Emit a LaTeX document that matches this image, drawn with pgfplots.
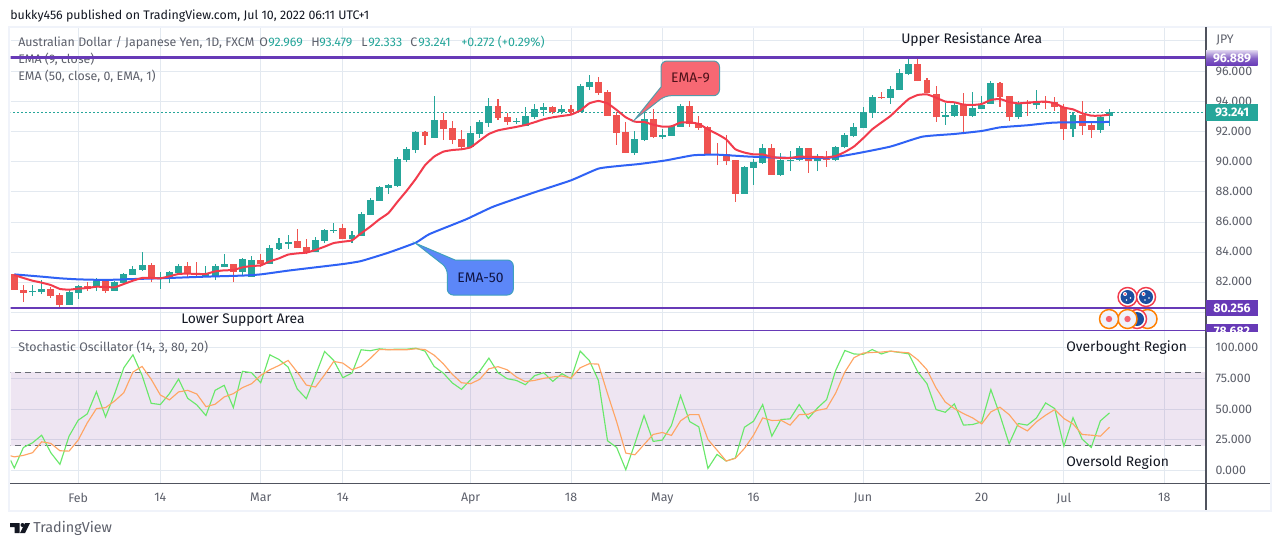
\documentclass[border=0pt]{standalone}
\usepackage{fontspec}
\setmainfont{Fira Sans}
\usepackage{pgfplots}
\usepackage{pgfplotstable}
\pgfplotsset{compat=1.18}

\definecolor{tvgreen}{HTML}{26A69A}
\definecolor{tvred}{HTML}{EF5350}
\definecolor{emared}{HTML}{F23B4C}
\definecolor{emablue}{HTML}{2F62F5}
\definecolor{tvpurple}{HTML}{673AB7}
\definecolor{gridc}{HTML}{E3E9F0}
\definecolor{framec}{HTML}{F0F3FA}
\definecolor{scalec}{HTML}{50535E}
\definecolor{labelc}{HTML}{5D606B}
\definecolor{inkc}{HTML}{131722}
\definecolor{stochk}{HTML}{69E86A}
\definecolor{stochd}{HTML}{FFA564}
\definecolor{bandc}{HTML}{5F0080}
\definecolor{flagblue}{HTML}{1B4FA0}

\newcommand{\tv}{\fontsize{9.3pt}{11pt}\selectfont}
\newcommand{\tvbig}{\fontsize{10.4pt}{12pt}\selectfont}

% i bot top lo hi
\pgfplotstableread{
i bot top lo hi
2 81.24 81.33 81.00 81.73
3 81.29 81.47 81.13 82.07
6 80.40 81.27 80.40 81.44
7 81.22 81.67 80.80 81.73
9 81.58 82.00 81.33 82.18
11 81.36 81.93 81.36 82.02
12 81.89 82.47 81.89 82.51
13 82.40 82.80 82.40 83.00
14 82.73 83.07 82.69 83.93
16 82.13 82.27 81.49 82.60
17 82.24 82.60 81.84 82.69
18 82.51 83.00 82.51 83.13
21 82.33 82.44 82.24 83.00
22 82.33 83.00 82.07 83.13
23 82.93 83.13 82.91 83.80
25 82.62 83.47 82.33 83.51
26 82.29 83.40 82.29 83.67
28 83.16 84.20 83.16 84.40
29 84.13 84.53 84.07 84.87
30 84.49 84.60 84.16 85.04
33 83.96 84.73 83.93 84.91
34 84.67 85.40 84.51 85.44
35 85.31 85.40 85.22 85.87
37 84.80 85.07 84.56 85.31
38 85.02 86.47 85.00 86.60
39 86.42 87.40 86.42 87.53
40 87.36 88.27 87.36 88.33
41 88.22 88.40 87.80 88.47
42 88.33 90.13 88.29 90.27
43 90.09 90.80 89.96 90.91
44 90.76 91.93 90.53 91.98
46 91.53 92.73 91.53 94.33
50 90.91 91.87 90.87 92.33
51 91.80 92.60 91.53 92.73
52 92.53 93.67 92.29 94.20
55 92.60 92.67 92.47 92.87
56 92.33 93.00 92.33 93.60
57 92.93 93.47 92.80 93.80
58 93.40 93.60 93.00 93.87
60 93.27 93.47 93.13 93.73
62 93.27 95.00 93.27 95.13
63 94.93 95.27 94.73 95.73
68 90.53 91.47 90.40 92.00
69 91.40 92.80 91.33 93.60
71 91.58 91.73 91.47 92.13
72 91.67 92.33 91.67 92.40
73 92.27 93.67 92.27 93.80
80 87.80 89.60 87.80 89.67
81 89.53 89.93 88.40 90.16
82 89.87 90.87 89.80 91.13
84 89.07 90.07 89.00 90.51
85 90.04 90.09 89.33 90.67
86 90.07 90.87 90.00 91.00
88 90.00 90.13 89.33 90.47
90 90.07 90.93 90.00 91.00
91 90.91 91.73 90.84 91.87
92 91.64 92.27 91.58 92.53
93 92.20 93.27 92.20 93.60
94 93.20 94.27 92.87 94.40
96 94.20 94.80 93.80 95.00
97 94.73 95.87 94.73 96.13
98 95.80 96.47 95.73 96.84
102 92.96 93.07 92.40 93.84
103 93.00 93.73 92.93 93.91
105 93.00 93.53 92.93 94.60
106 93.47 93.73 93.47 94.33
107 93.80 95.20 93.80 95.33
110 92.93 93.80 92.80 94.00
112 93.73 94.00 93.47 94.73
116 92.13 93.07 91.60 93.27
119 92.07 92.93 91.87 93.07
120 92.969 93.241 92.333 93.479
}\upT

\pgfplotstableread{
i bot top lo hi
0 81.40 82.44 81.40 82.44
1 81.22 81.40 80.62 81.71
4 81.00 81.47 80.89 81.62
5 80.40 81.07 80.29 81.18
8 81.44 81.64 81.36 81.91
10 81.36 81.98 81.22 82.13
15 82.18 83.07 81.96 83.18
19 82.47 83.00 82.24 83.27
20 82.47 82.51 82.33 83.29
24 82.62 83.13 81.96 83.13
27 83.13 83.40 82.96 83.78
31 84.22 84.67 84.22 85.47
32 83.84 84.27 83.78 84.80
36 84.82 85.53 84.82 85.80
45 91.67 91.93 91.07 92.02
47 92.13 92.73 91.40 93.22
48 91.40 92.20 91.13 92.67
49 90.91 91.47 90.73 92.07
53 92.87 93.67 92.73 94.13
54 92.60 92.93 92.40 93.20
59 93.27 93.60 93.13 93.67
61 93.27 93.47 93.13 93.73
64 94.53 95.27 94.40 95.60
65 93.00 94.60 93.00 94.73
66 91.87 93.07 91.07 93.29
67 90.53 91.93 90.53 92.60
70 91.58 92.80 91.53 93.47
74 92.47 93.67 92.27 94.00
75 92.20 92.53 92.07 93.00
76 90.40 92.27 90.40 92.33
77 90.40 90.44 89.73 91.18
78 90.00 90.47 89.73 91.73
79 87.80 90.07 87.27 90.07
83 89.07 90.87 89.07 91.13
87 90.00 90.87 89.20 90.87
89 90.07 90.13 89.60 90.67
95 94.18 94.27 94.13 94.60
99 95.33 96.47 95.33 96.78
100 94.53 95.40 94.53 95.53
101 92.93 94.47 92.60 95.00
104 93.00 93.73 91.93 94.53
108 94.27 95.20 93.60 95.27
109 92.93 94.33 92.67 94.33
111 93.78 93.87 93.00 94.07
113 93.84 93.93 93.47 94.33
114 93.60 93.93 93.33 94.27
115 92.13 93.60 91.40 93.80
117 92.33 93.07 91.73 94.00
118 92.07 92.40 91.53 92.53
}\downT

\newcommand{\candles}[2]{%
\addplot[draw=none, no marks, forget plot, error bars/.cd, y dir=plus, y explicit, error mark=none,
  error bar style={line width=0.8pt,solid,#2}]
  table[x=i,y=lo,y error plus expr=\thisrow{hi}-\thisrow{lo}] {#1};
\addplot[draw=none, no marks, forget plot, error bars/.cd, y dir=plus, y explicit, error mark=none,
  error bar style={line width=5.2pt,solid,#2}]
  table[x=i,y=bot,y error plus expr=\thisrow{top}-\thisrow{bot}] {#1};
}

\pgfplotsset{tvpane/.style={
  scale only axis, clip mode=individual,
  width=896.6pt,
  xmin=-0.416, xmax=130.57,
  xtick={7,16,27,36,50,61,71,81,93,106,115,126},
  xmajorgrids, grid style={gridc,line width=0.75pt},
  axis line style={draw=none}, tick style={draw=none},
  major tick length=0pt, minor tick length=0pt,
  yticklabel pos=right,
  yticklabel style={anchor=west,inner sep=0pt,xshift=7pt,font=\tv,text=labelc,
    /pgf/number format/.cd,fixed,fixed zerofill,precision=3,assume math mode=true},
}}

\begin{document}
\begin{tikzpicture}
\fill[white] (0,0) rectangle (960pt,-409.5pt);
\path[use as bounding box] (0,0) rectangle (960pt,-409.5pt);

% this one sits under the resistance line
\begin{scope}[x=0.75pt,y=-0.75pt]
\node[anchor=west,inner sep=0pt,text=labelc,font=\tv] at (18,59) {EMA (9, close)};
\end{scope}

% price pane
\begin{axis}[tvpane,
  at={(7.875pt,-249pt)}, anchor=south west,
  height=228.75pt,
  ymin=78.6, ymax=98.93,
  xticklabels={},
  ytick={82,84,86,88,90,92,94,96},
  ymajorgrids=false, yminorgrids, minor grid style={gridc,line width=0.75pt},
  minor ytick={79.91,81.91,83.91,85.91,87.95,89.95,91.95,93.95,95.95,98},
]
\addplot[tvgreen, line width=0.9pt, dash pattern=on 1.1pt off 1.9pt] coordinates {(-1,93.241)(131,93.241)};
\candles{\upT}{tvgreen}
\candles{\downT}{tvred}
\addplot[emablue, line width=1.5pt, smooth, tension=0.3] coordinates {
(0,82.44)(3,82.29)(5,82.18)(7,82.11)(10,82.07)(13,82.13)(16,82.18)(21,82.29)(25,82.36)(27,82.44)
(30,82.69)(33,82.91)(36,83.13)(38,83.33)(41,83.89)(44,84.56)(45.5,85.13)(49.5,86.11)(52.5,86.96)(57,87.91)
(61,88.71)(64,89.49)(66.3,89.67)(68.5,89.80)(71.4,90.04)(74.4,90.38)(77,90.42)(80.6,90.29)(84,90.22)(89,90.20)
(92,90.47)(96,90.96)(99.5,91.62)(103,91.80)(106,92.00)(108,92.24)(111,92.38)(114,92.56)(120,92.60)
};
\addplot[emared, line width=1.5pt, smooth, tension=0.25] coordinates {
(0,82.40)(1,82.20)(2,82.02)(3,81.89)(4,81.73)(5,81.47)(6,81.42)(7,81.49)(8,81.53)(9,81.62)
(10,81.60)(11,81.58)(12,81.80)(13,82.02)(14,82.20)(15,82.20)(16,82.18)(17,82.31)(18,82.47)(19,82.49)
(20,82.47)(21,82.47)(22,82.64)(23,82.71)(24,82.73)(25,82.91)(26,83.00)(27,83.04)(28,83.31)(29,83.51)
(30,83.76)(31,83.84)(32,83.89)(33,84.07)(34,84.29)(35,84.53)(36,84.62)(37,84.71)(38,85.18)(39,85.62)
(40,86.11)(41,86.53)(42,87.29)(43,88.02)(44,88.82)(45,89.71)(46,90.29)(47,90.62)(48,90.73)(49,90.78)
(50,90.91)(51,91.36)(52,91.80)(53,92.04)(54,92.16)(55,92.27)(56,92.40)(57,92.58)(58,92.78)(59,92.91)
(60,93.00)(61,93.09)(62,93.36)(63,93.84)(64,94.00)(65,93.84)(66,93.40)(67,92.91)(68,92.62)(69,92.60)
(70,92.42)(71,92.29)(72,92.31)(73,92.56)(74,92.58)(75,92.47)(76,92.11)(77,91.80)(78,91.44)(79,90.78)
(80,90.56)(81,90.44)(82,90.44)(83,90.27)(84,90.20)(85,90.20)(86,90.29)(87,90.27)(88,90.27)(89,90.24)
(90,90.33)(91,90.60)(92,90.96)(93,91.51)(94,92.11)(95,92.56)(96,93.00)(97,93.58)(98,94.13)(99,94.40)
(100,94.44)(101,94.22)(102,93.96)(103,93.91)(104,93.76)(105,93.73)(106,93.80)(107,94.07)(108,94.13)(109,93.93)
(110,93.84)(111,93.89)(112,93.93)(113,93.96)(114,93.84)(115,93.56)(116,93.44)(117,93.18)(118,93.02)(119,93.02)
(120,93.09)
};
\addplot[tvpurple, line width=1.9pt] coordinates {(-1,96.889)(131,96.889)};
\addplot[tvpurple, line width=1.9pt] coordinates {(-1,80.19)(131,80.19)};
\addplot[tvpurple, line width=0.8pt] coordinates {(-1,78.682)(131,78.682)};
\end{axis}

% stochastic pane
\begin{axis}[tvpane,
  at={(7.875pt,-362.5pt)}, anchor=south west,
  height=113.5pt,
  ymin=-10.6, ymax=112.9,
  xticklabels={Feb,14,Mar,14,Apr,18,May,16,Jun,20,Jul,18},
  xticklabel style={font=\tv,text=labelc,inner sep=0pt,yshift=-7.2pt},
  ytick={0,25,50,75,100},
  ymajorgrids,
]
\addplot[draw=none, fill=bandc, fill opacity=0.1] coordinates {(-1,20)(131,20)(131,80)(-1,80)} --cycle;
\addplot[scalec!85, line width=0.75pt, dash pattern=on 4.5pt off 3pt] coordinates {(-1,80)(131,80)};
\addplot[scalec!85, line width=0.75pt, dash pattern=on 4.5pt off 3pt] coordinates {(-1,20)(131,20)};
\addplot[stochk, line width=0.85pt] coordinates {
(-0.42,8.4)(0,1.9)(1,18.7)(2,22.5)(3,28.7)(4,14.4)(5,4.9)(6,27.9)(7,40.9)(8,46.1)(9,64.2)
(10,43.6)(11,62.6)(12,83.7)(13,94.3)(14,77.5)(15,54.7)(16,53.7)(17,62.6)(18,74.5)(19,58.8)
(20,53.4)(21,44.7)(22,65.3)(23,69.4)(24,51.2)(25,80.8)(26,79.7)(27,71.5)(28,94.3)(29,90.5)
(30,84.3)(31,66.4)(32,58.5)(33,77.5)(34,97.0)(35,89.7)(36,75.6)(37,79.4)(38,98.4)(39,97.6)
(40,99.2)(41,98.6)(42,98.9)(43,98.9)(44,99.7)(45,97.3)(46,84.8)(47,79.4)(48,71.3)(49,66.1)
(50,74.0)(51,81.0)(52,91.6)(53,79.7)(54,74.8)(55,73.4)(56,69.9)(57,77.2)(58,79.7)(59,72.6)
(60,78.9)(61,74.8)(62,97.3)(63,89.7)(64,73.4)(65,24.1)(66,18.7)(67,0.5)(68,22.0)(69,44.7)
(70,23.6)(71,24.7)(72,36.6)(73,61.0)(74,39.8)(75,35.5)(76,1.6)(77,13.0)(78,7.6)(79,10.0)
(80,35.2)(81,40.1)(82,53.7)(83,27.9)(84,41.5)(85,42.0)(86,53.7)(87,42.3)(88,50.9)(89,57.7)
(90,81.6)(91,97.8)(92,95.0)(93,94.6)(94,98.6)(95,95.0)(96,97.3)(97,96.2)(98,95.1)(99,80.2)
(100,70.7)(101,49.6)(102,47.4)(103,54.2)(104,36.9)(105,37.4)(106,39.6)(107,65.9)(108,45.0)(109,21.7)
(110,38.2)(111,36.9)(112,42.8)(113,55.0)(114,50.4)(115,19.8)(116,43.0)(117,25.5)(118,18.7)(119,40.4)
(120,46.9)
};
\addplot[stochd, line width=0.85pt] coordinates {
(-0.42,11.9)(0,11.0)(1,12.2)(2,14.4)(3,23.3)(4,22.0)(5,16.0)(6,15.7)(7,24.7)(8,38.8)(9,50.4)
(10,51.2)(11,56.6)(12,63.4)(13,80.2)(14,84.8)(15,74.3)(16,61.5)(17,57.5)(18,64.0)(19,65.3)
(20,62.3)(21,52.0)(22,53.9)(23,59.9)(24,62.6)(25,67.5)(26,70.7)(27,77.5)(28,82.1)(29,85.6)
(30,89.7)(31,80.2)(32,69.6)(33,68.0)(34,78.0)(35,88.9)(36,87.5)(37,82.1)(38,84.8)(39,91.3)
(40,98.6)(41,98.4)(42,98.4)(43,98.4)(44,99.2)(45,98.6)(46,94.0)(47,87.0)(48,78.3)(49,71.5)
(50,70.7)(51,74.3)(52,82.9)(53,84.6)(54,82.1)(55,76.2)(56,72.4)(57,73.4)(58,75.1)(59,76.2)
(60,77.0)(61,75.3)(62,83.7)(63,87.0)(64,86.7)(65,62.6)(66,39.6)(67,14.1)(68,12.7)(69,21.1)
(70,29.3)(71,30.9)(72,28.5)(73,40.4)(74,45.5)(75,45.5)(76,25.2)(77,16.5)(78,7.6)(79,9.8)
(80,17.9)(81,28.7)(82,42.8)(83,40.7)(84,40.9)(85,36.9)(86,45.5)(87,45.8)(88,49.0)(89,50.4)
(90,63.1)(91,80.2)(92,91.9)(93,95.7)(94,96.2)(95,96.5)(96,97.3)(97,96.5)(98,95.9)(99,90.2)
(100,82.1)(101,67.2)(102,55.8)(103,50.4)(104,46.3)(105,42.8)(106,37.9)(107,47.7)(108,51.5)(109,45.5)
(110,36.3)(111,32.2)(112,39.6)(113,45.0)(114,49.6)(115,42.3)(116,37.9)(117,29.3)(118,28.7)(119,27.9)
(120,35.2)
};
\end{axis}

% frame, tags, callouts and the text around the chart, in pixels from the top left
\begin{scope}[x=0.75pt,y=-0.75pt]
\draw[framec, line width=1.5pt] (9.3,26.5) rectangle (1270.5,511);
\draw[scalec, line width=0.85pt] (1206,27) -- (1206,510);
\draw[scalec, line width=0.85pt] (10,483.3) -- (1270,483.3);

% price tags
\shade[top color=tvpurple!25, bottom color=tvpurple, middle color=tvpurple!80] (1206,50.7) rectangle (1257.5,65.7);
\fill[tvgreen] (1206,104) rectangle (1257.5,120.7);
\fill[tvpurple] (1206,300) rectangle (1257.5,315.5);
\begin{scope}
\clip (1206,320) rectangle (1258,331.5);
\fill[tvpurple] (1206,324) rectangle (1257.5,340);
\node[text=white,font=\tv\bfseries] at (1232,331.8) {78.682};
\end{scope}
\node[text=white,font=\tv\bfseries] at (1232,58) {96.889};
\node[text=white,font=\tv\bfseries] at (1232,112.3) {93.241};
\node[text=white,font=\tv\bfseries] at (1232,308) {80.256};
\node[anchor=west,inner sep=0pt,text=labelc,font=\tv] at (1216,40.5) {JPY};

% currency flags on the bottom right of the price pane
\begin{scope}
\clip (1090,280) rectangle (1200,331);
\foreach \fx/\fy in {1127.5/297,1146/297}{
  \fill[white] (\fx,\fy) circle (9.5);
  \draw[emared, line width=1.1pt] (\fx,\fy) circle (9.5);
  \fill[flagblue] (\fx,\fy) circle (7);
  \fill[white] (\fx-2.5,\fy-3) circle (2);
  \fill[emared] (\fx-2.5,\fy-3) circle (1);
  \fill[white] (\fx+3,\fy+1) circle (0.8);
  \fill[white] (\fx-1,\fy+3) circle (0.8);
}
\foreach \fx/\fy in {1147.5/319}{
  \fill[framec] (\fx,\fy) circle (9.5);
  \draw[orange, line width=1.1pt] (\fx,\fy) circle (9.5);
}
\fill[white] (1137,319) circle (9.5);
\draw[emared, line width=1.1pt] (1137,319) circle (9.5);
\fill[flagblue] (1137,319) circle (7);
\foreach \fx/\fy in {1127.5/319,1109/319}{
  \fill[framec] (\fx,\fy) circle (9.5);
  \draw[orange, line width=1.1pt] (\fx,\fy) circle (9.5);
  \fill[emared!80] (\fx,\fy) circle (3.2);
}
\end{scope}

% callouts
\draw[fill={rgb,255:red,247;green,104;blue,115}, draw={rgb,255:red,84;green,155;blue,170}, line width=0.75pt, rounded corners=4.5pt]
  (672,61) -- (719.5,61) -- (719.5,95.7) -- (665,95.7) [sharp corners] -- (635,119.3) -- (661,87) [rounded corners=4.5pt] -- (661,61) -- cycle;
\node[text=inkc!75!red,font=\tvbig] at (690.5,78.3) {EMA-9};
\draw[fill={rgb,255:red,92;green,135;blue,248}, draw={rgb,255:red,63;green,160;blue,190}, line width=0.75pt, rounded corners=4.5pt]
  (460,260) -- (513.3,260) -- (513.3,295) -- (447.3,295) -- (447.3,268) [sharp corners] -- (415.7,243.3) -- (455,260) -- cycle;
\node[text=inkc!85!blue,font=\tvbig] at (480.5,277.5) {EMA-50};

% header and legend
\node[anchor=west,inner sep=0pt,text=inkc,font=\tv] at (10,16) {bukky456 published on TradingView.com, Jul 10, 2022 06:11 UTC+1};
\node[anchor=west,inner sep=0pt,text=labelc,font=\tv] at (18,42.5) {Australian Dollar / Japanese Yen, 1D, FXCM};
\node[anchor=west,inner sep=0pt,text=labelc,font=\tv] at (259,42.5) {O};
\node[anchor=west,inner sep=0pt,text=tvgreen,font=\tv] at (268,42.5) {92.969};
\node[anchor=west,inner sep=0pt,text=labelc,font=\tv] at (311,42.5) {H};
\node[anchor=west,inner sep=0pt,text=tvgreen,font=\tv] at (319,42.5) {93.479};
\node[anchor=west,inner sep=0pt,text=labelc,font=\tv] at (361,42.5) {L};
\node[anchor=west,inner sep=0pt,text=tvgreen,font=\tv] at (368,42.5) {92.333};
\node[anchor=west,inner sep=0pt,text=labelc,font=\tv] at (410,42.5) {C};
\node[anchor=west,inner sep=0pt,text=tvgreen,font=\tv] at (418,42.5) {93.241};
\node[anchor=west,inner sep=0pt,text=tvgreen,font=\tv] at (461,42.5) {+0.272 (+0.29\%)};
\node[anchor=west,inner sep=0pt,text=labelc,font=\tv] at (18,76) {EMA (50, close, 0, EMA, 1)};
\node[anchor=west,inner sep=0pt,text=labelc,font=\tv] at (18,347.5) {Stochastic Oscillator (14, 3, 80, 20)};

% annotations
\node[anchor=west,inner sep=0pt,text=inkc,font=\tvbig] at (901,40) {Upper Resistance Area};
\node[anchor=west,inner sep=0pt,text=inkc,font=\tvbig] at (181,320) {Lower Support Area};
\node[anchor=west,inner sep=0pt,text=inkc,font=\tvbig] at (1066,348) {Overbought Region};
\node[anchor=west,inner sep=0pt,text=inkc,font=\tvbig] at (1066,463) {Oversold Region};

% logo
\fill[inkc] (10,523) rectangle (19.5,527) (14.5,527) rectangle (19.5,533);
\fill[inkc] (22.5,525) circle (2);
\fill[inkc] (25,523) -- (30,523) -- (25,533) -- (20,533) -- cycle;
\node[anchor=west,inner sep=0pt,text=labelc,font=\fontsize{10.8pt}{12pt}\selectfont] at (33,528.5) {TradingView};
\end{scope}
\end{tikzpicture}
\end{document}
